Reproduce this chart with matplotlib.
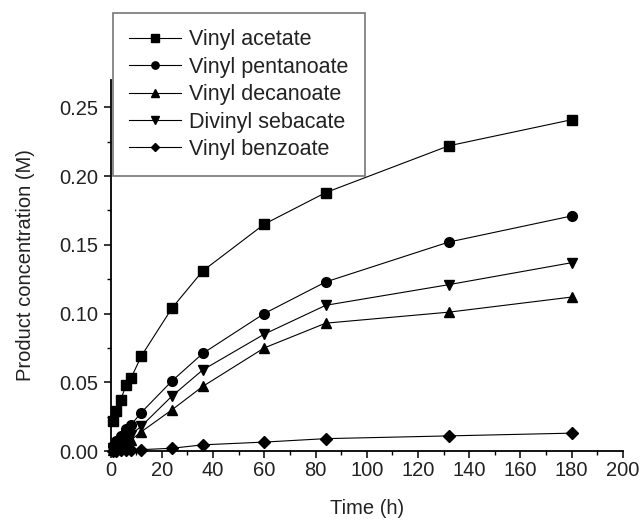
import matplotlib
matplotlib.use("Agg")
import matplotlib.pyplot as plt
from matplotlib.ticker import MultipleLocator, FormatStrFormatter

plt.rcParams['font.family'] = ['Liberation Sans', 'DejaVu Sans']

# temps de prélèvement (h)
time_h = [1, 2, 4, 6, 8, 12, 24, 36, 60, 84, 132, 180]

vinyl_acetate = [0.022, 0.029, 0.037, 0.048, 0.053, 0.069, 0.104, 0.131, 0.165, 0.188, 0.222, 0.241]
vinyl_pentanoate = [0.004, 0.007, 0.011, 0.016, 0.019, 0.028, 0.051, 0.071, 0.100, 0.123, 0.152, 0.171]
vinyl_decanoate = [0.001, 0.002, 0.004, 0.006, 0.008, 0.014, 0.030, 0.047, 0.075, 0.093, 0.101, 0.112]
divinyl_sebacate = [0.002, 0.003, 0.005, 0.008, 0.012, 0.018, 0.040, 0.059, 0.085, 0.106, 0.121, 0.137]
vinyl_benzoate = [0.000, 0.000, 0.001, 0.001, 0.001, 0.001, 0.002, 0.0045, 0.0065, 0.009, 0.011, 0.013]

series = [
    ("Vinyl acetate", vinyl_acetate, "s"),
    ("Vinyl pentanoate", vinyl_pentanoate, "o"),
    ("Vinyl decanoate", vinyl_decanoate, "^"),
    ("Divinyl sebacate", divinyl_sebacate, "v"),
    ("Vinyl benzoate", vinyl_benzoate, "D"),
]

fig = plt.figure(figsize=(6.4, 5.28), dpi=100)
ax = fig.add_axes([0.1727, 0.1458, 0.8007, 0.703])

for name, vals, mk in series:
    ms = 6 if mk == "D" else 7
    ax.plot(time_h, vals, color="black", lw=0.8, marker=mk, ms=ms,
            markeredgecolor="black", markerfacecolor="black", label=name, clip_on=False)

ax.set_xlim(0, 200)
ax.set_ylim(0, 0.27)
ax.xaxis.set_major_locator(MultipleLocator(20))
ax.xaxis.set_minor_locator(MultipleLocator(10))
ax.yaxis.set_major_locator(MultipleLocator(0.05))
ax.yaxis.set_minor_locator(MultipleLocator(0.025))
ax.yaxis.set_major_formatter(FormatStrFormatter('%.2f'))

for s in ['top', 'right']:
    ax.spines[s].set_visible(False)
for s in ['left', 'bottom']:
    ax.spines[s].set_linewidth(1.3)

ax.tick_params(which='major', direction='out', length=5, width=1.1, labelsize=14.5, colors='black')
ax.tick_params(which='minor', direction='out', length=3, width=1.0)
ax.tick_params(axis='x', pad=2)
for lab in ax.get_xticklabels() + ax.get_yticklabels():
    lab.set_color('#222222')

ax.set_xlabel("Time (h)", fontsize=14.5, labelpad=14, color='#222222')
ax.set_ylabel("Product concentration (M)", fontsize=14.5, labelpad=18, color='#222222')

leg = fig.legend(loc='upper left', bbox_to_anchor=(0.1766, 0.9754), bbox_transform=fig.transFigure,
                 fontsize=15.5, frameon=True, fancybox=False, borderaxespad=0, handlelength=2.4,
                 labelspacing=0.3, borderpad=0.75, handletextpad=0.4, markerscale=0.75)
leg.get_frame().set_edgecolor('#555555')
leg.get_frame().set_linewidth(1.2)
for t in leg.get_texts():
    t.set_color('#222222')

fig.savefig("out.png", dpi=100)
